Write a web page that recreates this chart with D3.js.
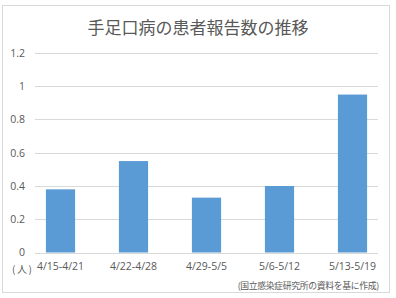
<!DOCTYPE html>
<html>
<head>
<meta charset="utf-8">
<script src="https://cdn.jsdelivr.net/npm/d3@7"></script>
<style>
  body { margin: 0; background: #fff; }
  text { fill: #595959; }
</style>
</head>
<body>
<div id="chart"></div>
<script>
var title = "手足口病の患者報告数の推移";
var weeks = ["4/15-4/21", "4/22-4/28", "4/29-5/5", "5/6-5/12", "5/13-5/19"];
var patients = [0.38, 0.55, 0.33, 0.40, 0.95];
var yTicks = [0, 0.2, 0.4, 0.6, 0.8, 1, 1.2];
var unitLabel = "(人)";
var sourceNote = "(国立感染症研究所の資料を基に作成)";

var width = 396, height = 298;

var svg = d3.select("#chart")
  .append("svg")
  .attr("width", width)
  .attr("height", height);

// outer frame
svg.append("rect")
   .attr("x", 2.5).attr("y", 5.5)
   .attr("width", 387).attr("height", 287)
   .attr("fill", "#fff")
   .attr("stroke", "#d9d9d9");

svg.append("text")
   .attr("x", 198).attr("y", 34)
   .attr("text-anchor", "middle")
   .style("font-family", "'Noto Sans CJK JP'")
   .style("font-size", "17px")
   .text(title);

var y = d3.scaleLinear().domain([0, 1.2]).range([252.5, 53]);
var x = d3.scaleBand().domain(weeks).range([24, 389]).paddingInner(0.6).paddingOuter(0.3);

// grid
svg.selectAll(".grid")
   .data(yTicks)
   .enter()
   .append("line")
   .attr("x1", 35).attr("x2", 378)
   .attr("y1", function(d) { return Math.round(y(d)) + 0.5; })
   .attr("y2", function(d) { return Math.round(y(d)) + 0.5; })
   .attr("stroke", "#d9d9d9")
   .attr("stroke-width", 1);

// y axis labels
var yAxis = d3.axisLeft(y).tickValues(yTicks).tickSize(0).tickPadding(0)
  .tickFormat(function(d) { return d3.format("~g")(d); });
var gy = svg.append("g")
  .attr("transform", "translate(25,0)")
  .call(yAxis);
gy.select(".domain").remove();
gy.selectAll("text")
  .style("font-family", "'Open Sans', sans-serif")
  .style("font-size", "10.5px")
  .attr("fill", "#595959");

// bars
svg.selectAll(".bar")
   .data(patients)
   .enter()
   .append("rect")
   .attr("x", function(d, i) { return x(weeks[i]); })
   .attr("width", x.bandwidth())
   .attr("y", function(d) { return y(d); })
   .attr("height", function(d) { return y(0) - y(d); })
   .attr("fill", "#5b9bd5");

// x axis labels
var xAxis = d3.axisBottom(x).tickSize(0).tickPadding(0);
var gx = svg.append("g")
  .attr("transform", "translate(0,263)")
  .call(xAxis);
gx.select(".domain").remove();
gx.selectAll("text")
  .style("font-family", "'Open Sans', sans-serif")
  .style("font-size", "10.5px")
  .attr("fill", "#595959");

svg.append("text")
   .attr("x", 12).attr("y", 273)
   .style("font-family", "'Noto Sans CJK JP'")
   .style("font-size", "10px")
   .style("letter-spacing", "1.5px")
   .text(unitLabel);

svg.append("text")
   .attr("x", 379).attr("y", 289)
   .attr("text-anchor", "end")
   .style("font-family", "'Noto Sans CJK JP'")
   .style("font-size", "8.8px")
   .style("letter-spacing", "-0.3px")
   .text(sourceNote);
</script>
</body>
</html>
